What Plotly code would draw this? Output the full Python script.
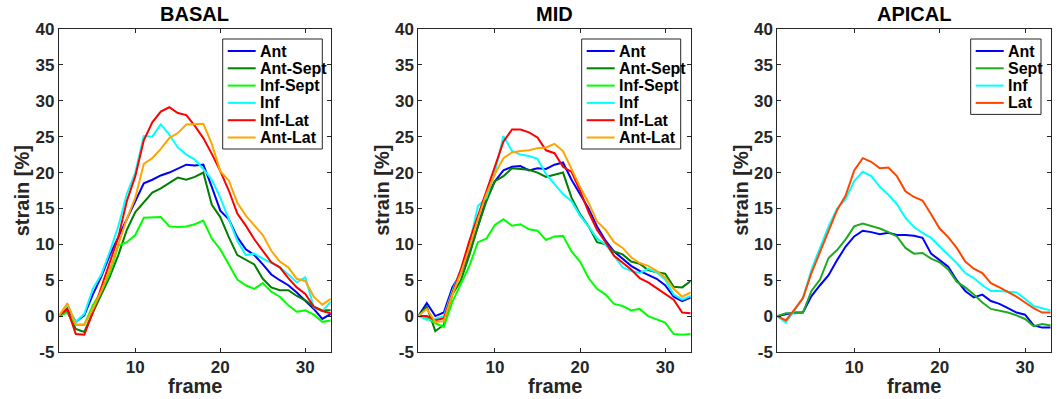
import plotly.graph_objects as go
from plotly.subplots import make_subplots

frames = list(range(1, 34))
x_ticks = [10, 20, 30]
y_ticks = [-5, 0, 5, 10, 15, 20, 25, 30, 35, 40]
y_tick_labels = ["-5", "0", "5", "10", "15", "20", "25", "30", "35", "40"]

# BASAL segments
basal_ant = [0, 1.1, -0.8, 0.1, 3, 5.5, 8.5, 11, 13.5, 16, 18.5, 19, 19.6, 20, 20.6, 21.1, 21, 21.1, 18,
             14.7, 13.5, 11, 9.3, 8.5, 7.2, 5.8, 5, 4.3, 3.3, 2.2, 1, -0.4, 0.3]
basal_ant_sept = [0, 0.6, -1.8, -2.2, 0.5, 3, 5.5, 8.5, 12, 14.5, 15.8, 17.2, 17.8, 18.6, 19.3, 19, 19.4, 20,
                  15.5, 13.8, 11, 8.5, 7.8, 7.2, 5.2, 4, 3.6, 3.6, 2.8, 2.2, 1.3, 0.8, 0.8]
basal_inf_sept = [0, 0.5, -1.2, -1.2, 1.5, 3.5, 6, 9.8, 10.3, 11.3, 13.7, 13.7, 13.8, 12.5, 12.4, 12.5, 12.8,
                  13.3, 10.8, 9.3, 7.2, 5.1, 4.3, 3.8, 4.6, 3.4, 2.7, 1.5, 0.6, 0.8, 0.2, -0.8, -0.6]
basal_inf = [0, 1.5, -0.8, 0.3, 3.8, 5.8, 9, 12.5, 17, 20, 25.1, 25, 26.7, 25.3, 23.5, 22.5, 21.8, 20.5, 19,
             16.5, 13.5, 10.5, 8.5, 8.7, 8, 7.4, 6.8, 5.8, 4.7, 5.4, 1.2, 0.7, 2]
basal_inf_lat = [0, 1, -2.5, -2.6, 0.5, 4, 7.5, 11, 16, 19.5, 24.5, 27, 28.5, 29.1, 28.3, 28, 26.5, 24.8, 22.6,
                 20.2, 17.5, 14.3, 12.6, 10.7, 9.1, 7.5, 6.8, 5.3, 4, 3.1, 1.3, 0.7, 0.4]
basal_ant_lat = [0, 1.8, -1.2, -1.2, 1, 3.5, 6.5, 10, 13.5, 16.5, 21.2, 22, 23.3, 24.8, 25.5, 26.7, 26.8, 26.8,
                 24, 20.2, 18.9, 15.8, 14, 12.6, 11.3, 9.1, 7.6, 6.8, 5.2, 4.9, 2.7, 1.6, 2.4]

# MID segments
mid_ant = [0, 1.8, 0, 0.5, 4, 6, 9, 12.5, 16.5, 18.8, 20.3, 20.8, 20.9, 20.3, 20.6, 20.5, 21.1, 21.4, 19, 17,
           15, 12.5, 10.5, 9, 8, 7, 6.3, 5.7, 5.2, 4.3, 2.7, 2.1, 2.6]
mid_ant_sept = [0, 1.3, -2.1, -1.2, 3, 5, 8.5, 12.5, 16, 18.8, 19.5, 20.6, 20.5, 20.4, 20, 19.4, 19.7, 20,
                16.5, 14.2, 12.5, 10.3, 10, 9, 8.6, 7.6, 7.3, 6.4, 6.1, 5.9, 4.1, 4, 4.9]
mid_inf_sept = [0, -0.3, -1, -1.5, 2, 4.5, 7, 10.3, 10.8, 12.7, 13.5, 12.6, 12.8, 12.1, 11.9, 10.6, 11.1, 11.2,
                9, 7.6, 5.3, 3.8, 3, 1.7, 1.4, 0.8, 1, 0, -0.4, -0.9, -2.5, -2.6, -2.5]
mid_inf = [0, -0.5, -0.4, 0, 3.5, 6.5, 10, 15.3, 16.5, 20, 25.1, 23, 22.5, 22.3, 21.9, 19.8, 18.4, 17, 16, 14,
           12.5, 10.8, 10, 8.4, 6.8, 6.3, 6, 6.6, 6.1, 5.1, 3, 2.3, 2.8]
mid_inf_lat = [0, 0, -0.6, -0.3, 3.2, 6.5, 10.5, 14, 17.5, 21, 24.3, 26, 26, 25.6, 24.9, 23.1, 22.7, 20.8, 20.1,
               17.5, 14.5, 12, 10.3, 8.4, 7.5, 6.5, 5.3, 4.7, 3.9, 3.1, 2.3, 0.5, 0.4]
mid_ant_lat = [0, 1, -0.8, -0.7, 3, 6, 9.5, 13.5, 17, 19.8, 22, 22.8, 23, 23.1, 23.4, 23.5, 24, 23, 20.5, 18,
               15.8, 13.2, 12, 10.3, 9.5, 8.2, 7.4, 7, 6.3, 5.4, 3.8, 2.7, 3.3]

# APICAL segments
apical_ant = [0, 0.3, 0.5, 0.5, 2.8, 4.3, 5.7, 7.8, 9.7, 11.1, 11.9, 11.7, 11.4, 11.6, 11.3, 11.3, 11.2, 10.9,
              8.7, 7.8, 6.9, 5, 3.5, 2.6, 3, 2.1, 1.7, 1.1, 0.5, 0.2, -1.3, -1.6, -1.6]
apical_sept = [0, 0.4, 0.4, 0.5, 3.5, 5.1, 8.1, 9.2, 10.7, 12.5, 12.9, 12.6, 12.2, 11.7, 11.1, 9.5, 8.7, 8.8,
               8, 7.5, 6.5, 4.8, 4, 3, 1.9, 1, 0.8, 0.5, 0.1, -0.4, -1.4, -1.1, -1.3]
apical_inf = [0, -0.9, 0.8, 2.5, 6.5, 9.5, 12.5, 15, 16.3, 18.8, 20.1, 19.5, 18, 16.9, 15.6, 13.7, 12.4, 11.6,
              10.9, 9.7, 8.5, 7.4, 6, 5.3, 4.3, 3.5, 3.5, 3.4, 3.3, 2.4, 1.4, 1.1, 0.8]
apical_lat = [0, -0.6, 0.9, 2.5, 6, 9, 12, 14.8, 16.8, 20.3, 22, 21.5, 20.6, 20.7, 19.5, 17.4, 16.6, 16.1, 14.2,
              12.2, 11, 9.5, 7.6, 6.6, 6, 4.6, 4, 3.4, 2.7, 1.9, 1.1, 0.5, 0.5]

panels = [
    ("BASAL", [("Ant", basal_ant, "#0000FF"), ("Ant-Sept", basal_ant_sept, "#008000"),
               ("Inf-Sept", basal_inf_sept, "#00FF00"), ("Inf", basal_inf, "#00FFFF"),
               ("Inf-Lat", basal_inf_lat, "#FF0000"), ("Ant-Lat", basal_ant_lat, "#FFA500")]),
    ("MID", [("Ant", mid_ant, "#0000FF"), ("Ant-Sept", mid_ant_sept, "#008000"),
             ("Inf-Sept", mid_inf_sept, "#00FF00"), ("Inf", mid_inf, "#00FFFF"),
             ("Inf-Lat", mid_inf_lat, "#FF0000"), ("Ant-Lat", mid_ant_lat, "#FFA500")]),
    ("APICAL", [("Ant", apical_ant, "#0000FF"), ("Sept", apical_sept, "#1FAA1F"),
                ("Inf", apical_inf, "#00FFFF"), ("Lat", apical_lat, "#FF4500")]),
]

W, H = 1064, 399
xdoms = [(58.8, 330.8), (418.3, 690.7), (777.3, 1050.7)]
ytop, ybot = 29, 352
# legend boxes: (left, right) in pixels, top at 39
legend_boxes = [(222.7, 322.3), (581.7, 680.7), (970.7, 1041)]

dark = "#262626"
ff = "Liberation Sans, Arial, sans-serif"


def px(x):
    return x / W


def py(y):
    return 1 - y / H


fig = make_subplots(rows=1, cols=3)
shapes = []
annos = []

for i, (title, series) in enumerate(panels):
    for name, vals, color in series:
        fig.add_trace(go.Scatter(x=frames, y=vals, mode="lines", name=name, showlegend=False,
                                 line=dict(color=color, width=2)),
                      row=1, col=i + 1)
    x0, x1 = xdoms[i]
    fig.update_xaxes(dict(domain=[px(x0), px(x1)], range=[1, 33], tickvals=x_ticks,
                          showline=True, linecolor=dark, linewidth=1, mirror="ticks",
                          ticks="inside", ticklen=4, tickcolor=dark, showgrid=False, zeroline=False,
                          automargin=False,
                          tickfont=dict(size=17, color=dark, family=ff, weight="bold")),
                     row=1, col=i + 1)
    fig.update_yaxes(dict(domain=[py(ybot), py(ytop)], range=[-5, 40],
                          tickvals=y_ticks, ticktext=y_tick_labels,
                          showline=True, linecolor=dark, linewidth=1, mirror="ticks",
                          ticks="inside", ticklen=4, tickcolor=dark, showgrid=False, zeroline=False,
                          automargin=False,
                          tickfont=dict(size=17, color=dark, family=ff, weight="bold")),
                     row=1, col=i + 1)
    cx = (x0 + x1) / 2
    annos.append(dict(text=f"<b>{title}</b>", x=px(cx), y=py(14), xref="paper", yref="paper",
                      xanchor="center", yanchor="middle", showarrow=False,
                      font=dict(size=20, color="#000000", family=ff)))
    annos.append(dict(text="<b>frame</b>", x=px(cx), y=py(386), xref="paper", yref="paper",
                      xanchor="center", yanchor="middle", showarrow=False,
                      font=dict(size=20, color=dark, family=ff)))
    annos.append(dict(text="<b>strain [%]</b>", x=px(x0 - 37), y=py((ytop + ybot) / 2),
                      xref="paper", yref="paper", xanchor="center", yanchor="middle",
                      textangle=-90, showarrow=False,
                      font=dict(size=20, color=dark, family=ff)))

    # legend box
    bl, br = legend_boxes[i]
    btop = 39
    row_h = 17.3
    bbot = btop + 23.5 + row_h * (len(series) - 1)
    shapes.append(dict(type="rect", xref="paper", yref="paper", x0=px(bl), x1=px(br),
                       y0=py(bbot), y1=py(btop), line=dict(color=dark, width=1),
                       fillcolor="white", layer="above"))
    for k, (name, vals, color) in enumerate(series):
        ry = btop + 12 + row_h * k
        shapes.append(dict(type="line", xref="paper", yref="paper", x0=px(bl + 5), x1=px(bl + 33),
                           y0=py(ry), y1=py(ry), line=dict(color=color, width=2), layer="above"))
        annos.append(dict(text=f"<b>{name}</b>", x=px(bl + 35), y=py(ry), xref="paper",
                          yref="paper", xanchor="left", yanchor="middle", showarrow=False,
                          font=dict(size=16, color="#000000", family=ff)))

fig.update_layout(width=W, height=H, margin=dict(l=0, r=0, t=0, b=0),
                  paper_bgcolor="white", plot_bgcolor="white",
                  shapes=shapes, annotations=annos, showlegend=False)

fig.write_html("out.html", config={"displayModeBar": False},
               post_script="document.body.style.margin='0';")
